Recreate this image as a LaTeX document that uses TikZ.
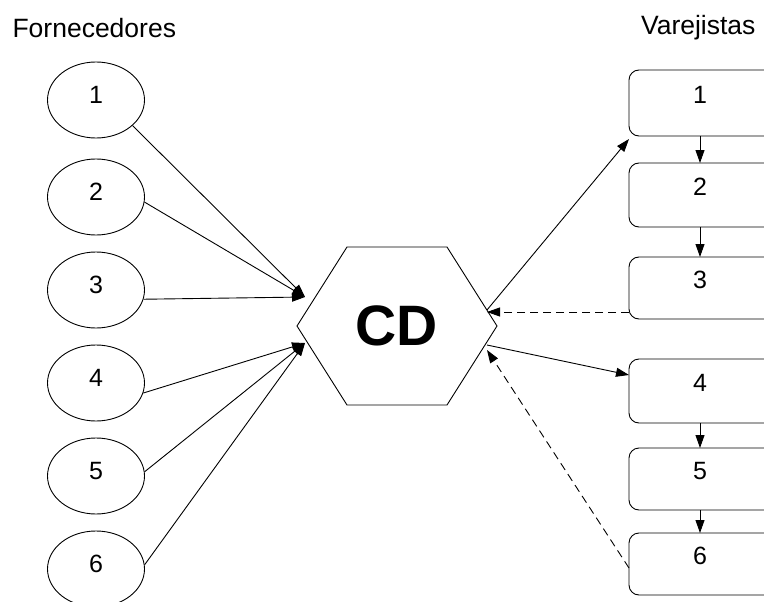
\documentclass[tikz,border=0pt]{standalone}
\usepackage{fontspec}
\setmainfont{Liberation Sans}
\usetikzlibrary{arrows.meta,shapes.geometric}
\begin{document}
\begin{tikzpicture}[x=1pt,y=-1pt,
  sup/.style={draw,ellipse,line width=0.9pt,minimum width=97,minimum height=76,inner sep=0pt},
  lab/.style={font=\fontsize{25}{25}\selectfont},
  ttl/.style={font=\fontsize{26.5}{26.5}\selectfont},
  arr/.style={-{Triangle[length=13pt,width=9pt]},line width=0.9pt},
  darr/.style={arr,dashed,dash pattern=on 8pt off 5pt}]
\useasboundingbox (0,0) rectangle (764,602);
\clip (0,0) rectangle (764,602);
\node[ttl,anchor=west] (tf) at (9,28) {Fornecedores};
\node[ttl,anchor=east] (tv) at (759,28) {Varejistas};
% suppliers
\foreach \i/\y in {1/100,2/197,3/290,4/383,5/476,6/569}{
  \node[sup] (s\i) at (96,\y) {};
  \node[lab] (n\i) at (96,{\y-5}) {\i};
}
% retailers
\foreach \i/\t/\b in {1/70/136,2/163/227,3/257/319,4/359/423,5/448/510,6/533/595}{
  \draw[line width=0.9pt,rounded corners=10pt] (790,\t) -- (629,\t) -- (629,\b) -- (790,\b);
  \node[lab] (r\i) at (700,{(\t+\b)/2-8}) {\i};
  \coordinate (rt\i) at (700,\t);
  \coordinate (rb\i) at (700,\b);
}
% hexagon
\draw[line width=0.9pt] (297,326) -- (347,247) -- (447,247) -- (497,326) -- (447,405) -- (347,405) -- cycle;
\node[font=\fontsize{57}{57}\selectfont\bfseries] (cd) at (397,326) {CD};
\coordinate (hin1) at (305,297);
\coordinate (hin2) at (305,343);
\coordinate (hout1) at (487,310);
\coordinate (hin3) at (487,312);
\coordinate (hout2) at (487,345);
\coordinate (hin4) at (487,350);
% supplier arrows
\draw[arr] (s1.-35) -- (hin1);
\draw[arr] (s2.-6) -- (hin1);
\draw[arr] (s3.-11) -- (hin1);
\draw[arr] (s4.-12) -- (hin2);
\draw[arr] (s5.5) -- (hin2);
\draw[arr] (s6.5) -- (hin2);
% retailer arrows
\coordinate (b1c) at (629,139);
\coordinate (b3l) at (629,312);
\coordinate (b4l) at (629,375);
\coordinate (b6l) at (629,568);
\draw[arr] (hout1) -- (b1c);
\draw[darr] (b3l) -- (hin3);
\draw[arr] (hout2) -- (b4l);
\draw[darr] (b6l) -- (hin4);
% chain arrows
\draw[arr] (rb1) -- (rt2);
\draw[arr] (rb2) -- (rt3);
\draw[arr] (rb4) -- (rt5);
\draw[arr] (rb5) -- (rt6);
\end{tikzpicture}
\end{document}
